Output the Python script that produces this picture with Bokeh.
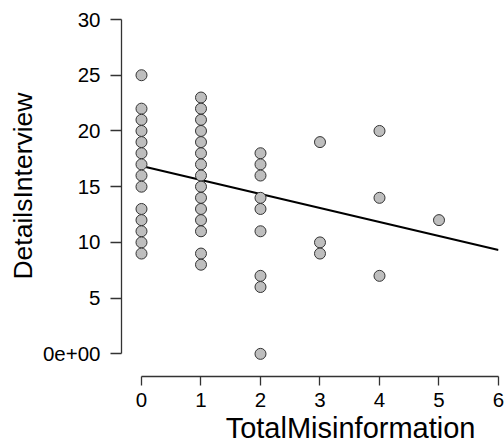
from bokeh.plotting import figure
from bokeh.models import Range1d, FixedTicker, ColumnDataSource, Title
from bokeh.embed import file_html
from bokeh.resources import INLINE

# Data
total_misinformation = [0]*14 + [1]*15 + [2]*9 + [3]*3 + [4]*3 + [5]*1
details_interview = (
    [25, 22, 21, 20, 19, 18, 17, 16, 15, 13, 12, 11, 10, 9]
    + [23, 22, 21, 20, 19, 18, 17, 16, 15, 14, 13, 12, 11, 9, 8]
    + [18, 17, 16, 14, 13, 11, 7, 6, 0]
    + [19, 10, 9]
    + [20, 14, 7]
    + [12]
)
fit_intercept = 16.85
fit_slope = -1.255

x_ticks = [0, 1, 2, 3, 4, 5, 6]
y_ticks = [0, 5, 10, 15, 20, 25, 30]
y_tick_labels = {0: "0e+00"}
x_title = "TotalMisinformation"
y_title = "DetailsInterview"

FONT = "Liberation Sans"

p = figure(
    width=504, height=444,
    frame_width=377, frame_height=357,
    x_range=Range1d(-0.336, 6), y_range=Range1d(-2.03, 30),
    output_backend="svg", toolbar_location=None,
    min_border_left=121, min_border_right=6, min_border_top=19, min_border_bottom=68,
)
p.outline_line_color = None
p.grid.visible = False
p.background_fill_color = "white"
p.border_fill_color = "white"

for ax in (p.xaxis[0], p.yaxis[0]):
    ax.axis_line_color = "#333333"
    ax.axis_line_width = 1.3
    ax.major_tick_line_color = "#333333"
    ax.major_tick_line_width = 1.3
    ax.minor_tick_line_color = None
    ax.major_tick_in = 0
    ax.major_label_text_font = FONT
    ax.major_label_text_font_size = "20.5px"
    ax.major_label_text_color = "black"

p.xaxis.ticker = FixedTicker(ticks=x_ticks)
p.yaxis.ticker = FixedTicker(ticks=y_ticks)
p.xaxis.bounds = (min(x_ticks), max(x_ticks))
p.yaxis.bounds = (min(y_ticks), max(y_ticks))
p.yaxis.major_label_overrides = y_tick_labels
p.xaxis.major_tick_out = 9
p.yaxis.major_tick_out = 11
p.xaxis.major_label_standoff = 7
p.yaxis.major_label_standoff = 10

p.add_layout(Title(text=x_title, align="right", offset=23, standoff=0,
                   text_font=FONT, text_font_size="29px",
                   text_font_style="normal", text_color="black"), "below")
p.add_layout(Title(text=y_title, align="right", offset=73, standoff=4,
                   text_font=FONT, text_font_size="26.5px",
                   text_font_style="normal", text_color="black"), "left")

# regression line
lx = [min(x_ticks), max(x_ticks)]
ly = [fit_intercept + fit_slope * v for v in lx]
p.line(lx, ly, line_color="black", line_width=2)

src = ColumnDataSource(dict(x=total_misinformation, y=details_interview))
p.scatter("x", "y", source=src, size=11, fill_color="#BEBEBE",
          line_color="#333333", line_width=1)

open("out.html", "w").write(file_html(p, INLINE))
